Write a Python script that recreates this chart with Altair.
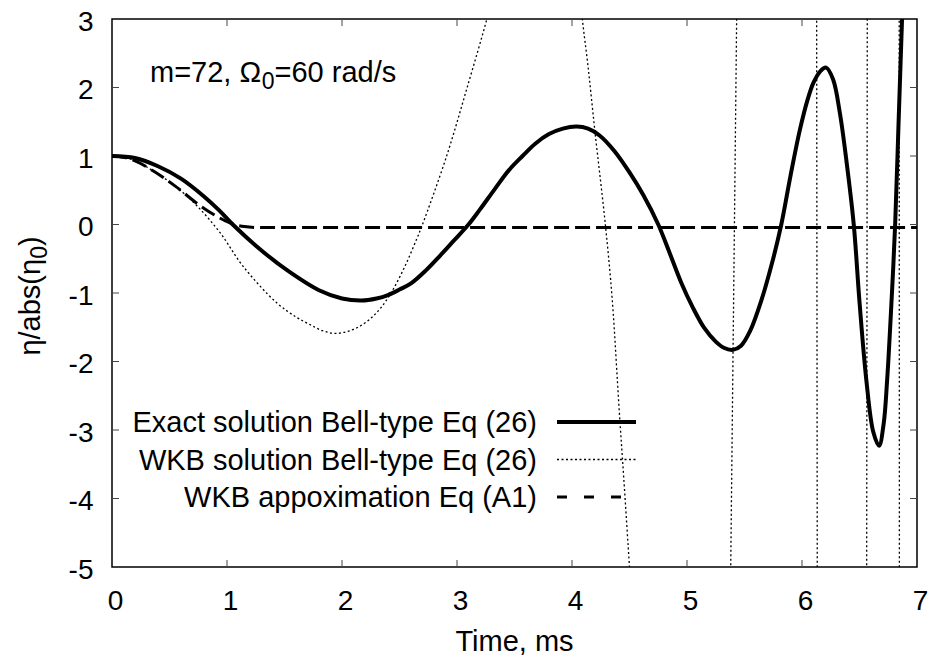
import altair as alt
import pandas as pd

# Plot area size (pixels) and shared text style
W, H = 805, 548
FONT = "Liberation Sans"
FS = 29      # text size for titles, key and annotation
TFS = 28     # tick label size
SUB = 23     # subscript size

# Exact solution of the Bell-type equation (26)
exact_t = [0.0, 0.2, 0.4, 0.6, 0.8, 0.93, 1.05, 1.3, 1.55, 1.8, 2.0, 2.17, 2.3, 2.4,
           2.5, 2.6, 2.73, 2.85, 2.97, 3.1, 3.2, 3.33, 3.45, 3.57, 3.68, 3.8, 3.92,
           4.04, 4.14, 4.24, 4.37, 4.5, 4.62, 4.75, 4.85, 4.95, 5.05, 5.15, 5.25,
           5.32, 5.4, 5.47, 5.55, 5.65, 5.74, 5.82, 5.9, 5.98, 6.05, 6.1, 6.16, 6.21,
           6.27, 6.33, 6.39, 6.45, 6.5, 6.56, 6.62, 6.67, 6.71, 6.74, 6.78, 6.81,
           6.84, 6.87, 6.9]
exact_y = [1.0, 0.97, 0.85, 0.67, 0.41, 0.21, 0.0, -0.38, -0.70, -0.96, -1.08, -1.11,
           -1.08, -1.03, -0.95, -0.86, -0.67, -0.46, -0.24, 0.0, 0.22, 0.52, 0.79,
           1.0, 1.18, 1.32, 1.40, 1.43, 1.40, 1.30, 1.07, 0.76, 0.43, 0.0, -0.42,
           -0.85, -1.21, -1.51, -1.71, -1.80, -1.83, -1.77, -1.55, -1.09, -0.56, 0.0,
           0.71, 1.37, 1.83, 2.07, 2.24, 2.29, 2.12, 1.62, 0.88, 0.0, -1.13, -2.28,
           -3.03, -3.23, -2.91, -2.28, -1.07, 0.0, 1.5, 3.0, 4.5]

# WKB solution of Eq (26): pieces of the curve that cross the visible window
wkb_t = [
    [0.0, 0.1, 0.2, 0.36, 0.55, 0.74, 0.94, 1.14, 1.43, 1.6, 1.72, 1.83, 1.94, 2.05,
     2.15, 2.25, 2.35, 2.45, 2.55, 2.65, 2.70, 2.91, 3.09, 3.26, 3.32],
    [4.07, 4.09, 4.14, 4.20, 4.29, 4.35, 4.41, 4.45, 4.50, 4.52],
    [5.377, 5.435],
    [6.127, 6.133],
    [6.562, 6.568],
    [6.845, 6.847],
]
wkb_y = [
    [1.0, 0.98, 0.93, 0.78, 0.56, 0.27, -0.12, -0.61, -1.14, -1.35, -1.46, -1.55,
     -1.59, -1.56, -1.49, -1.37, -1.19, -0.93, -0.60, -0.21, 0.0, 1.0, 2.01, 3.0, 3.4],
    [3.4, 3.0, 2.3, 1.35, 0.0, -1.1, -2.7, -3.7, -5.0, -5.5],
    [-5.5, 3.5],
    [3.5, -5.5],
    [-5.5, 3.5],
    [3.5, -5.5],
]

# WKB approximation, Eq (A1)
approx_t = [0.0, 0.1, 0.2, 0.36, 0.55, 0.77, 0.9, 1.03, 1.15, 1.3, 7.0]
approx_y = [1.0, 0.98, 0.93, 0.78, 0.56, 0.27, 0.13, 0.02, -0.03, -0.045, -0.045]

legend_labels = ["Exact solution Bell-type Eq (26)",
                 "WKB solution Bell-type Eq (26)",
                 "WKB appoximation Eq (A1)"]

x_ticks = [0, 1, 2, 3, 4, 5, 6, 7]
y_ticks = [-5, -4, -3, -2, -1, 0, 1, 2, 3]

exact_df = pd.DataFrame({"t": exact_t, "y": exact_y})
wkb_df = pd.concat(
    [pd.DataFrame({"t": ts, "y": ys, "seg": i}) for i, (ts, ys) in enumerate(zip(wkb_t, wkb_y))],
    ignore_index=True,
)
approx_df = pd.DataFrame({"t": approx_t, "y": approx_y})

xs = alt.Scale(domain=[0, 7], nice=False, zero=False)
ys_ = alt.Scale(domain=[-5, 3], nice=False, zero=False)

x_axis = alt.Axis(values=x_ticks, ticks=False, tickSize=0, domain=False, grid=False,
                  labelFontSize=TFS, labelPadding=20, labelFlush=False, labelOffset=3,
                  labelOverlap=False, labelExpr="'' + datum.value", title=None)
y_axis = alt.Axis(values=y_ticks, ticks=False, tickSize=0, domain=False, grid=False,
                  labelFontSize=TFS, labelPadding=19, labelOffset=3,
                  labelOverlap=False, labelExpr="'' + datum.value", title=None)

X = alt.X("t:Q", scale=xs, axis=x_axis)
Y = alt.Y("y:Q", scale=ys_, axis=y_axis)

one = pd.DataFrame({"k": [0]})

exact_line = alt.Chart(exact_df).mark_line(
    color="black", strokeWidth=4, interpolate="catmull-rom", clip=True
).encode(x=X, y=Y, order="t:Q")

wkb_line = alt.Chart(wkb_df).mark_line(
    color="black", strokeWidth=1.3, strokeDash=[2, 2.5], interpolate="catmull-rom", clip=True
).encode(x=X, y=Y, detail="seg:N", order="t:Q")

approx_line = alt.Chart(approx_df).mark_line(
    color="black", strokeWidth=3, strokeDash=[15, 6], interpolate="monotone", clip=True
).encode(x=X, y=Y, order="t:Q")

# Inward tick marks on all four sides
TICK = 7
xt_df = pd.DataFrame({"t": x_ticks[1:-1]})
yt_df = pd.DataFrame({"y": y_ticks[1:-1]})
tick_style = dict(color="#444", strokeWidth=1)
ticks = [
    alt.Chart(xt_df).mark_rule(**tick_style).encode(x=X, y=alt.value(H), y2=alt.value(H - TICK)),
    alt.Chart(xt_df).mark_rule(**tick_style).encode(x=X, y=alt.value(0), y2=alt.value(TICK)),
    alt.Chart(yt_df).mark_rule(**tick_style).encode(y=Y, x=alt.value(0), x2=alt.value(TICK)),
    alt.Chart(yt_df).mark_rule(**tick_style).encode(y=Y, x=alt.value(W), x2=alt.value(W - TICK)),
]


def text(s, x, y, size=FS, align="left", angle=0):
    return alt.Chart(one).mark_text(
        font=FONT, fontSize=size, align=align, baseline="alphabetic", color="black", angle=angle
    ).encode(x=alt.value(x), y=alt.value(y), text=alt.value(s))


# Parameter annotation: m=72, Omega_0=60 rad/s
ann_x, ann_y = 38, 63
w_main = 3.853 * FS
annotation = [
    text("m=72, \u03a9", ann_x, ann_y),
    text("0", ann_x + w_main, ann_y + 7, size=SUB),
    text("=60 rad/s", ann_x + w_main + 0.556 * SUB, ann_y, size=FS),
]

# Axis titles
x_title = text("Time, ms", W / 2, 632, align="center")
w1 = 3.335 * FS
w_total = w1 + 0.556 * SUB + 0.333 * FS
yt_base = 277 + w_total / 2
y_title = [
    text("\u03b7/abs(\u03b7", -72, yt_base, angle=270),
    text("0", -65, yt_base - w1, size=SUB, angle=270),
    text(")", -72, yt_base - w1 - 0.556 * SUB, angle=270),
]

# Key, with the line samples to the right of the labels
row_base = [413, 450.5, 488]
row_mid = [403, 440.5, 478]
sample_styles = [
    dict(strokeWidth=4),
    dict(strokeWidth=1.3, strokeDash=[2, 2.5]),
    dict(strokeWidth=3, strokeDash=[10, 17]),
]
key = []
for lab, yb, ym, st in zip(legend_labels, row_base, row_mid, sample_styles):
    key.append(text(lab, 425, yb, align="right"))
    key.append(
        alt.Chart(one).mark_rule(color="black", **st).encode(
            x=alt.value(445), x2=alt.value(524), y=alt.value(ym)
        )
    )

chart = alt.layer(
    *ticks, approx_line, wkb_line, exact_line, *annotation, x_title, *y_title, *key
).properties(
    width=W,
    height=H,
    padding={"left": 112, "top": 19, "right": 14, "bottom": 94},
    autosize=alt.AutoSizeParams(type="none"),
    background="white",
).configure_view(
    stroke="black", strokeWidth=1.5
).configure_axis(
    labelFont=FONT, labelColor="black"
)

chart.save("out.html", embed_options={"renderer": "svg", "actions": False})
